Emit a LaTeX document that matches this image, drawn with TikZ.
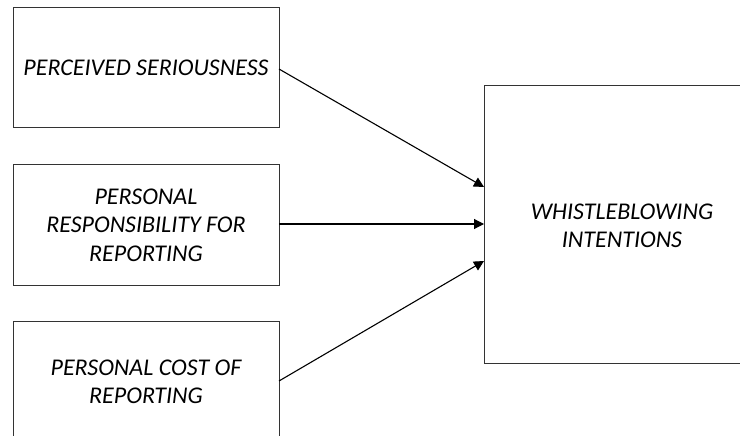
\documentclass[tikz,border=0pt]{standalone}
\usepackage{fontspec}
\setmainfont{Carlito}
\usetikzlibrary{arrows.meta}
\begin{document}
\begin{tikzpicture}[x=1pt,y=-1pt,
  box/.style={draw=black!80, line width=1pt, fill=white},
  lbl/.style={align=center, font=\fontsize{24}{28.5}\selectfont\itshape, inner sep=0pt},
  conn/.style={line width=1.1pt, -{Triangle[length=10pt,width=10pt]}}]
\clip (0,0) rectangle (740,436);
\fill[white] (0,0) rectangle (740,436);
% boxes
\draw[box] (13,8) rectangle (279,128);
\node[lbl] (ps) at (146,68) {PERCEIVED SERIOUSNESS};
\draw[box] (13,164) rectangle (279,285);
\node[lbl] (pr) at (146,225) {PERSONAL\\RESPONSIBILITY FOR\\REPORTING};
\draw[box] (13,321) rectangle (279,443);
\node[lbl] (pc) at (146,382) {PERSONAL COST OF\\REPORTING};
\draw[box] (484,86) rectangle (760,363);
\node[lbl] (wi) at (622,226) {WHISTLEBLOWING\\INTENTIONS};
% connector anchors
\coordinate (a1) at (279,69);
\coordinate (a2) at (279,224);
\coordinate (a3) at (279,381);
\coordinate (b1) at (484,187);
\coordinate (b2) at (484,224);
\coordinate (b3) at (484,261);
\draw[conn] (a1) -- (b1);
\draw[conn] (a2) -- (b2);
\draw[conn] (a3) -- (b3);
\end{tikzpicture}
\end{document}
